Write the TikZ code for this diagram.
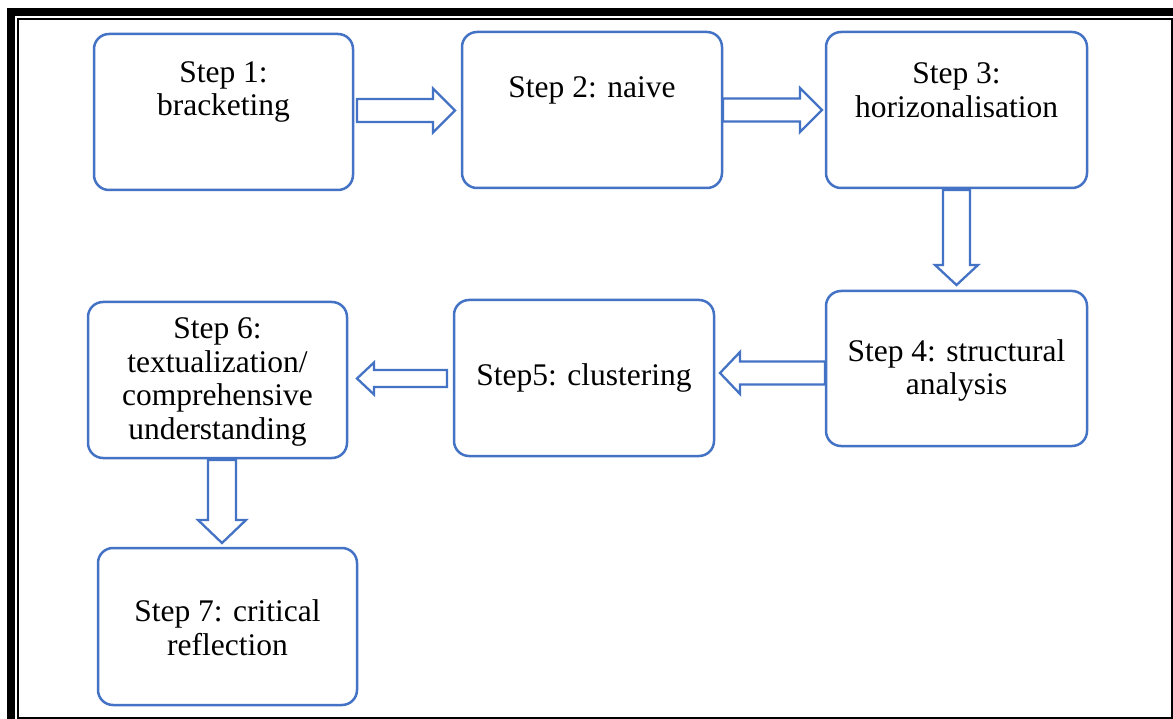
\documentclass[tikz,border=0pt]{standalone}
\usepackage{fontspec}
\setmainfont{Liberation Serif}
\usetikzlibrary{calc}
\definecolor{stepblue}{HTML}{4472C4}
\begin{document}
\begin{tikzpicture}[x=1pt,y=-1pt,
  stepbox/.style={draw=stepblue, line width=2.5pt, rounded corners=15pt, fill=white,
                  inner sep=0pt, outer sep=0pt},
  steptext/.style={align=center, font=\fontsize{31.5}{33.8}\selectfont, text=black,
                   inner sep=0pt},
  arrowline/.style={draw=stepblue, line width=2.3pt, fill=white, line join=miter},
  % hollow block arrow along +x: length / shaft half-width / head half-width / head length
  pics/blockarrow/.style n args={4}{code={
    \path[arrowline] (0,-#2) -- (#1-#4,-#2) -- (#1-#4,-#3) -- (#1,0)
                     -- (#1-#4,#3) -- (#1-#4,#2) -- (0,#2) -- cycle;}}
]
% canvas
\fill[white] (0,0) rectangle (1173,719);
\useasboundingbox (0,0) rectangle (1173,719);

% double frame: heavy band top and left, thin inner rule
\fill[black] (7,8) rectangle (1173,16);
\fill[black] (7,8) rectangle (15,719);
\draw[black, line width=2.3pt] (17.8,18.8) rectangle (1171.9,717.8);

% step boxes
\node[stepbox, minimum width=259pt, minimum height=156pt] (b1) at (223.5,112) {};
\node[stepbox, minimum width=260pt, minimum height=156pt] (b2) at (592,110) {};
\node[stepbox, minimum width=261pt, minimum height=156pt] (b3) at (956.5,110) {};
\node[stepbox, minimum width=261pt, minimum height=155pt] (b4) at (956.5,368.5) {};
\node[stepbox, minimum width=260pt, minimum height=156pt] (b5) at (584,378) {};
\node[stepbox, minimum width=259pt, minimum height=156pt] (b6) at (217.5,380) {};
\node[stepbox, minimum width=259pt, minimum height=157pt] (b7) at (227.5,626.5) {};

% step labels
\node[steptext, yshift=20pt] (t1) at (b1.center) {Step 1:\\bracketing};
\node[steptext, yshift=20pt] (t2) at (b2.center) {Step 2: naive};
\node[steptext, yshift=20pt] (t3) at (b3.center) {Step 3:\\horizonalisation};
\node[steptext, yshift=-2pt] (t4) at (b4.center) {Step 4: structural\\analysis};
\node[steptext] (t5) at (b5.center) {Step5: clustering};
\node[steptext, yshift=-2pt] (t6) at (b6.center) {Step 6:\\textualization/\\comprehensive\\understanding};
\node[steptext, yshift=-1pt] (t7) at (b7.center) {Step 7: critical\\reflection};

% block arrows between the steps
\pic (a12) at (357,110.5) {blockarrow={98}{11.5}{22}{22}};
\pic (a23) at (723,110) {blockarrow={99}{11.5}{22}{22}};
\pic[rotate=-90] (a34) at (956.5,190) {blockarrow={95}{13.5}{21.5}{20}};
\pic[rotate=180] (a45) at (825,373) {blockarrow={105}{11.5}{21}{20}};
\pic[rotate=180] (a56) at (447,378.5) {blockarrow={90}{8.5}{16}{17}};
\pic[rotate=-90] (a67) at (222,460) {blockarrow={83}{14}{24}{23}};
\end{tikzpicture}
\end{document}
